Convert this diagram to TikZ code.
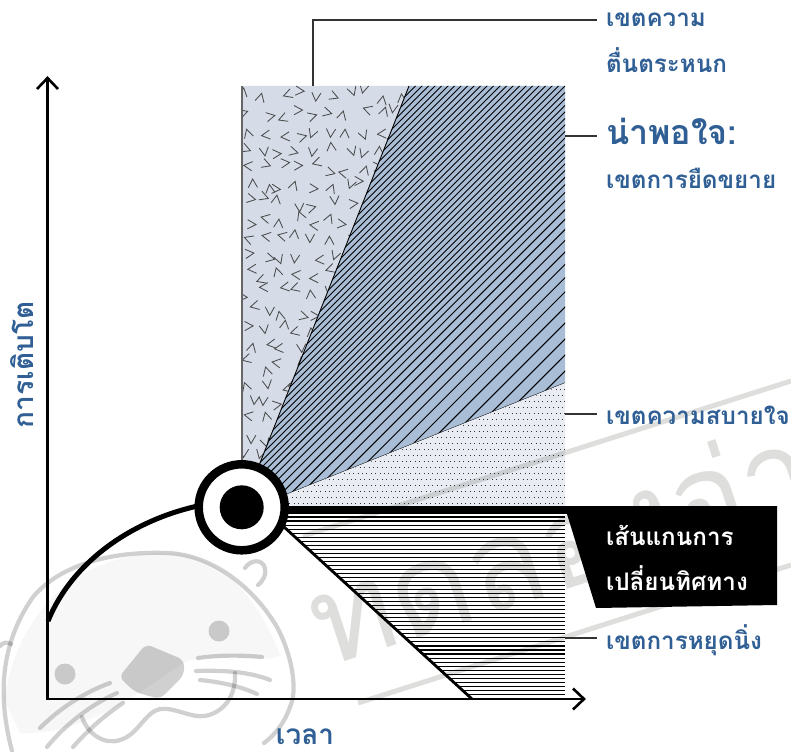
\documentclass[tikz,border=0pt]{standalone}
\usepackage{fontspec}
\newfontfamily\thaifont[Script=Thai]{Loma}
\definecolor{lblue}{HTML}{2F5F94}
\definecolor{panicfill}{HTML}{D5DCE8}
\definecolor{stretchfill}{HTML}{A9BDD6}
\definecolor{comfortfill}{HTML}{E9EDF3}
\definecolor{wm}{HTML}{DEDEDC}
\definecolor{otter}{HTML}{D0D0D0}
\tikzset{
  x=1pt,y=-1pt,
  lab/.style={anchor=west,inner xsep=9pt,inner ysep=0pt,outer sep=0pt,text=lblue,font=\thaifont\bfseries\fontsize{24.2}{24.2}\selectfont},
  axislab/.style={text=lblue,inner sep=0pt,font=\thaifont\bfseries\fontsize{28}{28}\selectfont},
  lead/.style={draw=black!80,line width=1.5pt},
  axisline/.style={draw=black,line width=2.6pt,line join=miter},
  chev/.style={draw=black!70,line width=0.85pt},
  otterline/.style={draw=otter,line width=4.2pt,line cap=round,line join=round,blend mode=multiply},
}
\begin{document}
\begin{tikzpicture}
\useasboundingbox (0,0) rectangle (791,751);
\fill[white] (0,0) rectangle (791,751);

% panic zone
\fill[panicfill] (242,86) -- (409,86) -- (258,470) -- (242,470) -- cycle;
\begin{scope}
\clip (243,86) -- (409,86) -- (258,470) -- (243,470) -- cycle;
\pgfmathsetseed{23}
\foreach \i in {0,...,10}{\foreach \j in {0,...,21}{
  \pgfmathsetmacro\cx{249+\i*16.5+rand*6}
  \pgfmathsetmacro\cy{95+\j*18+rand*6}
  \pgfmathsetmacro\ca{int(random(0,3))*90+rand*22}
  \begin{scope}[shift={(\cx,\cy)},rotate=\ca]
    \draw[chev] (-4.5,-4.6) -- (4,0) -- (-4.5,4.6);
  \end{scope}
}}
\end{scope}
\draw[draw=black!60,line width=1.6pt] (242,86) -- (242,470);

% stretch zone
\fill[stretchfill] (409,86) -- (565,86) -- (565,383) -- (285,495) -- (258,468) -- cycle;
\begin{scope}
\clip (409,86) -- (565,86) -- (565,383) -- (285,495) -- (258,468) -- cycle;
\gdef\hatchc{495}
\foreach \n in {1,...,62}{
  \pgfmathsetmacro\hstep{min(16,max(6.5,6.5+(\hatchc-730)*0.0679))}
  \pgfmathsetmacro\hnext{\hatchc+\hstep}
  \xdef\hatchc{\hnext}
  \draw[black,line width=0.95pt] (200,\hatchc-200) -- (620,\hatchc-620);
}
\end{scope}
\draw[black,line width=0.9pt] (409,86) -- (258,468);
\draw[black,line width=0.9pt] (565,383) -- (285,495);

% comfort zone
\fill[comfortfill] (565,383) -- (565,506) -- (285,506) -- (285,495) -- cycle;
\begin{scope}
\clip (565,384) -- (565,506) -- (285,506) -- (285,496) -- cycle;
\foreach \n in {0,...,20}{
  \pgfmathsetmacro\yy{503-6*\n}
  \pgfmathsetmacro\ph{mod(\n,2)*2.2}
  \draw[black!80,line width=1pt,dash pattern=on 1pt off 3.4pt,dash phase=\ph pt] (285,\yy) -- (565,\yy);
}
\end{scope}

% stasis stripes
\begin{scope}
\clip (285,514) -- (565,514) -- (565,699) -- (472,699) -- (285,528) -- cycle;
\foreach \n in {0,...,45}{
  \pgfmathsetmacro\yy{517+4.03*\n}
  \draw[black,line width=1.1pt] (280,\yy) -- (565,\yy);
}
\end{scope}
\coordinate (diagA) at (283,526);
\coordinate (diagB) at (472,699);
\draw[black,line width=2.8pt] (diagA) -- (diagB);

% axes
\coordinate (origin) at (47.5,699);
\coordinate (ytip) at (47.5,78);
\coordinate (xtip) at (584,699);
\draw[axisline] (ytip) -- (origin) -- (xtip);
\draw[axisline] (37,89) -- (ytip) -- (58,89);
\draw[axisline] (573,688.5) -- (xtip) -- (573,709.5);

% growth curve
\coordinate (cstart) at (48,621);
\coordinate (cend) at (200,505.5);
\draw[black,line width=5pt] (cstart) .. controls (72,562) and (132,520) .. (cend);

% band
\fill[black] (285,506) rectangle (570,514);

% watermark
\begin{scope}[blend mode=multiply]
\draw[wm,line width=5pt] (303,536) -- (791,381);
\draw[wm,line width=5pt] (358,703) -- (791,565);
\node[text=wm,anchor=base west,inner sep=0pt,rotate=18,font=\thaifont\fontsize{125}{125}\selectfont] (wmtext) at (326,668) {ทดลองอ่าน};
\end{scope}
\fill[black!3,blend mode=multiply] (4,700) .. controls (20,600) and (90,552) .. (167,553)
  .. controls (215,553) and (255,590) .. (280,655) .. controls (270,665) and (200,650) .. (180,665)
  .. controls (130,700) and (80,735) .. (20,733) -- cycle;
\draw[otterline] (12,751) .. controls (-4,690) and (3,640) .. (33,597) .. controls (60,565) and (110,551) .. (167,553)
  .. controls (215,555) and (255,590) .. (277,627) .. controls (292,655) and (298,690) .. (290,707) .. controls (285,722) and (275,735) .. (264,743);
\draw[otterline] (245,568) .. controls (250,560) and (262,558) .. (265,568) .. controls (267,575) and (262,582) .. (258,585);
\draw[otterline] (0,646) .. controls (3,642) and (8,642) .. (11,644);
\fill[otter,blend mode=multiply] (219,631) circle[radius=10.5];
\fill[otter,blend mode=multiply] (65,674) circle[radius=10.5];
\fill[otter,blend mode=multiply,rounded corners=6pt] (146,644) -- (184,660) -- (184,675) -- (160,699) -- (135,692) -- (119,677) -- cycle;
\draw[otterline] (198,658) .. controls (220,655) and (240,655) .. (262,657);
\draw[otterline] (196,671) .. controls (225,670) and (250,672) .. (270,680);
\draw[otterline] (200,680) .. controls (220,682) and (240,686) .. (257,694);
\draw[otterline] (110,683) .. controls (85,692) and (60,708) .. (40,728);
\draw[otterline] (117,693) .. controls (90,705) and (65,725) .. (47,747);
\draw[otterline] (123,703) .. controls (105,715) and (88,730) .. (73,747);
\draw[otterline] (82,717) .. controls (88,735) and (105,745) .. (120,740) .. controls (138,735) and (145,712) .. (160,709)
  .. controls (175,707) and (190,718) .. (205,716) .. controls (225,712) and (236,695) .. (235,673);

% ring
\node[circle,draw=black,line width=8.5pt,fill=white,minimum size=86pt,inner sep=0pt] (ring) at (241.7,507.3) {};
\node[circle,fill=black,minimum size=44pt,inner sep=0pt] (pivot) at (ring.center) {};

% pivot label box
\fill[black] (567,506) -- (777,506) -- (777,605) -- (596,608) -- (567,514) -- cycle;
\node[lab,text=white] (pivotA) at (597,535) {เส้นแกนการ};
\node[lab,text=white] (pivotB) at (597,578) {เปลี่ยนทิศทาง};

% labels and leaders
\node[lab] (panicA) at (597,20) {เขตความ};
\node[lab] (panicB) at (597,60) {ตื่นตระหนก};
\node[lab,font=\thaifont\bfseries\fontsize{34}{34}\selectfont] (stretchA) at (597,131) {น่าพอใจ:};
\node[lab] (stretchB) at (597,178) {เขตการยืดขยาย};
\node[lab] (comfort) at (597,415) {เขตความสบายใจ};
\node[lab] (stasis) at (597,640) {เขตการหยุดนิ่ง};
\coordinate (panicEdge) at (313,86);
\coordinate (stretchEdge) at (565,136);
\coordinate (comfortEdge) at (565,414);
\coordinate (stasisEdge) at (565,638);
\draw[lead] (panicEdge) -- (313,20) -- (597,20);
\draw[lead] (stretchEdge) -- (597,136);
\draw[lead] (comfortEdge) -- (597,414);
\draw[lead] (stasisEdge) -- (597,638);
\node[axislab] (xlab) at (305,737) {เวลา};
\node[axislab,rotate=90] (ylab) at (22,365) {การเติบโต};
\end{tikzpicture}
\end{document}
